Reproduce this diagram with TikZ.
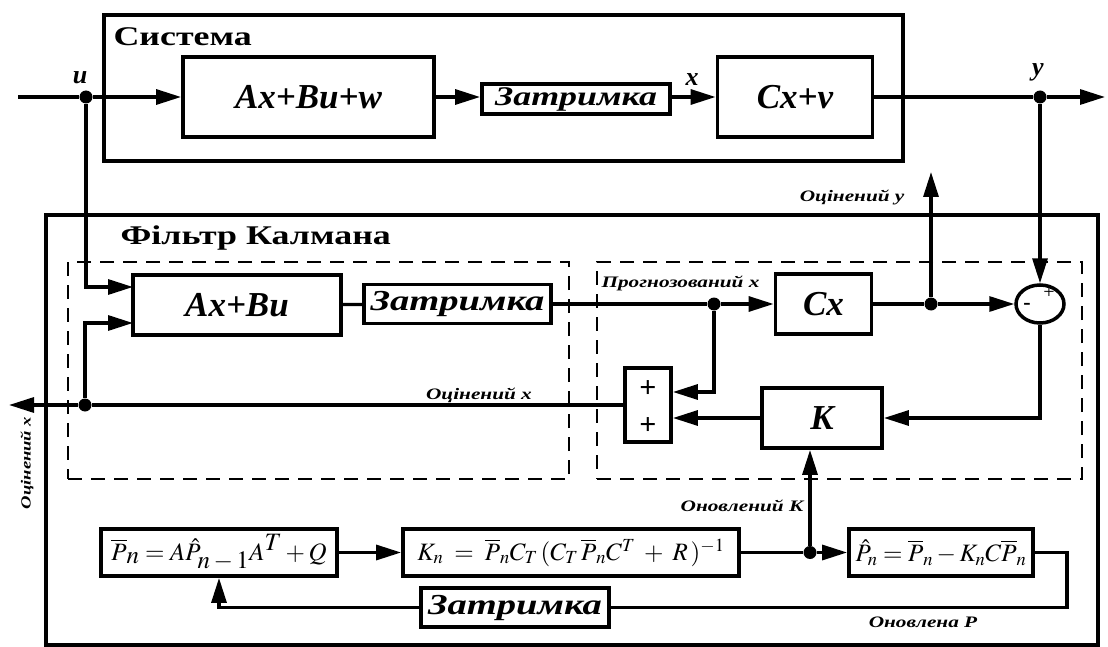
\documentclass[tikz,border=0pt]{standalone}
\usepackage{mathptmx}
\usepackage{fontspec}
\setmainfont{Liberation Serif}
\newfontfamily\cyrfont[FakeStretch=1.33]{Liberation Serif}
\usepackage{tikz}
\usetikzlibrary{arrows.meta,shapes.geometric,calc}

\begin{document}
\begin{tikzpicture}[
  x=1pt, y=-1pt,
  >={Triangle[length=25pt,width=15pt]},
  bigbox/.style={draw, line width=4.5pt, inner sep=0pt},
  dbox/.style={draw, line width=2pt, dash pattern=on 14pt off 9pt, inner sep=0pt},
  blk/.style={draw, line width=3.8pt, inner sep=0pt, font=\fontsize{35}{38}\selectfont\bfseries\itshape},
  delay/.style={draw, line width=3.8pt, inner sep=0pt, font=\fontsize{29}{32}\selectfont\cyrfont\bfseries\itshape},
  eqn/.style={draw, line width=3.8pt, inner sep=0pt, font=\fontsize{25}{28}\selectfont},
  wire/.style={line width=3.2pt},
  arr/.style={->, line width=3.2pt},
  jdot/.style={circle, fill, inner sep=0pt, minimum size=13pt},
  hdr/.style={anchor=west, font=\fontsize{27}{30}\selectfont\cyrfont\bfseries},
  sig/.style={font=\fontsize{26}{30}\selectfont\bfseries\itshape},
  lbl/.style={font=\fontsize{16}{19}\selectfont\cyrfont\bfseries\itshape},
  sgn/.style={inner sep=0pt, font=\fontsize{30}{30}\selectfont\bfseries}
]
\useasboundingbox (0,0) rectangle (1108,647);

% frames
\node[bigbox, minimum width=799pt, minimum height=146pt] (sys) at (503.5,88) {};
\node[hdr] (systxt) at (110,37) {Система};
\node[bigbox, minimum width=1052pt, minimum height=430pt] (kal) at (572,430) {};
\node[hdr] (kaltxt) at (117,238) {Фільтр Калмана};
\node[dbox, minimum width=501pt, minimum height=217pt] (predbox) at (318.5,370.5) {};
\node[dbox, minimum width=485pt, minimum height=217pt] (corrbox) at (839.5,370.5) {};

% system
\node[blk, minimum width=251pt, minimum height=80pt] (plant) at (308.5,97) {Ax+Bu+w};
\node[delay, minimum width=188pt, minimum height=30pt, font=\fontsize{27}{28}\selectfont\cyrfont\bfseries\itshape] (sdelay) at (576,99) {Затримка};
\node[blk, minimum width=155pt, minimum height=80pt] (meas) at (795,97) {Cx+v};
\coordinate (uin) at (18,97);
\coordinate (yout) at (1105,97);
\node[jdot] (udot) at (86,97) {};
\node[jdot] (ydot) at (1040,97) {};
\node[sig] (ulbl) at (80,78) {u};
\node[sig] (xlbl) at (692,80) {x};
\node[sig] (ylbl) at (1038,72) {y};

\draw[wire] (uin) -- (udot);
\draw[arr] (udot) -- (plant);
\draw[arr] (plant) -- (sdelay.west |- plant);
\draw[arr] (sdelay.east |- plant) -- (meas);
\draw[wire] (meas) -- (ydot);
\draw[arr] (ydot) -- (yout);

% filter: prediction / correction
\node[blk, minimum width=208pt, minimum height=60pt] (model) at (237,305) {Ax+Bu};
\node[delay, minimum width=187pt, minimum height=39pt] (fdelay) at (457.5,304) {Затримка};
\node[blk, minimum width=96pt, minimum height=60pt] (outm) at (823.5,304) {Cx};
\node[draw, ellipse, line width=3.5pt, minimum width=48pt, minimum height=38pt, inner sep=0pt] (err) at (1040,304) {};
\node[inner sep=0pt, font=\fontsize{20}{20}\selectfont] (errp) at (1049,293) {+};
\node[inner sep=0pt, font=\fontsize{22}{22}\selectfont\bfseries] (errm) at (1027,306) {-};
\node[blk, minimum width=46pt, minimum height=74pt] (add) at (648,405) {};
\node[sgn] (addp) at (648,389) {+};
\node[sgn] (addq) at (648,426) {+};
\node[blk, minimum width=120pt, minimum height=60pt] (gain) at (822,418) {K};

\coordinate (modin1) at (133,287);
\coordinate (modin2) at (133,323);
\coordinate (xest) at (9,405);
\coordinate (yest) at (931,172);
\node[jdot] (xdot) at (85,405) {};
\node[jdot] (pdot) at (714,304) {};
\node[jdot] (cdot) at (931,304) {};

\draw[arr] (udot) |- (modin1);
\draw[wire] (add.west) -- (xdot);
\draw[arr] (xdot) -- (xest);
\draw[arr] (xdot) |- (modin2);
\draw[wire] (model) -- (fdelay);
\draw[wire] (fdelay) -- (pdot);
\draw[arr] (pdot) -- (outm);
\draw[wire] (outm) -- (cdot);
\draw[arr] (cdot) -- (err);
\draw[arr] (cdot) -- (yest);
\draw[arr] (ydot) -- (err);
\draw[arr] (pdot) |- (add.east |- 0,392);
\draw[arr] (err) |- (gain);
\draw[arr] (gain) -- (add.east |- gain);

\node[lbl, anchor=east] (yestlbl) at (908,197) {Оцінений y};
\node[lbl, anchor=west] (xpredlbl) at (598,283) {Прогнозований x};
\node[lbl] (xestlbl) at (479,395) {Оцінений x};
\node[lbl, rotate=90, font=\fontsize{14}{16}\selectfont\cyrfont\bfseries\itshape] (xoutlbl) at (27,463) {Оцінений x};

% covariance / gain update
\node[eqn, minimum width=236pt, minimum height=47pt] (ppred) at (219,552.5) {$\overline{P}_{\textstyle n} = A\hat{P}_{\textstyle n-1}A^{\textstyle T}+Q$};
\node[eqn, minimum width=336pt, minimum height=47pt] (kgain) at (571,552.5) {$K_n\;=\;\overline{P}_n C_T\,(C_T\,\overline{P}_n C^T\;+\;R\,)^{-1}$};
\node[eqn, minimum width=184pt, minimum height=47pt] (pupd) at (941,552.5) {$\hat{P}_n = \overline{P}_n - K_n C\overline{P}_n$};
\node[delay, minimum width=188pt, minimum height=39pt] (pdelay) at (515,607.5) {Затримка};
\node[jdot] (kdot) at (810,552.5) {};

\draw[arr] (ppred) -- (kgain);
\draw[wire] (kgain) -- (kdot);
\draw[arr] (kdot) -- (pupd);
\draw[arr] (kdot) -- (kdot |- gain.south);
\draw[wire] (pupd.east) -- ++(32,0) |- (pdelay);
\draw[arr] (pdelay) -| (ppred);

\node[lbl] (kupdlbl) at (742,506) {Оновлений K};
\node[lbl] (pupdlbl) at (923,622) {Оновлена P};
\end{tikzpicture}
\end{document}
